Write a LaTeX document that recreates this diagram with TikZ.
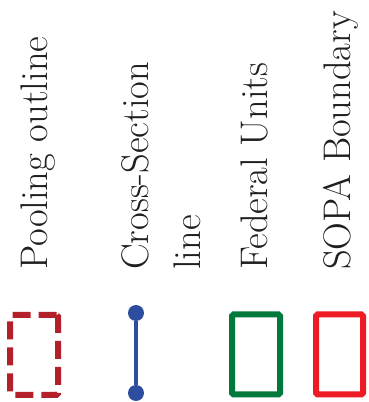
\documentclass[tikz,border=0pt]{standalone}
\usetikzlibrary{arrows}
\usetikzlibrary{shapes}
\definecolor{poolRed}{HTML}{B3202A}
\definecolor{xsecBlue}{HTML}{2D4E9F}
\definecolor{fedGreen}{HTML}{00793C}
\definecolor{sopaRed}{HTML}{ED1C24}

\begin{document}
\begin{tikzpicture}[x = 1pt, y = 1pt]
	\tikzstyle{labelStyle} = [rotate = 90, anchor = base west, inner sep = 0pt, align = left, font = \fontsize{38.5}{52}\selectfont, text = black!88]
	\tikzstyle{boxStyle} = [shape = rectangle, minimum width = 48pt, minimum height = 80pt, line width = 6pt, rounded corners = 1.5pt, draw]
	\tikzstyle{endStyle} = [shape = circle, minimum size = 16pt, inner sep = 0pt, fill = xsecBlue]
	\useasboundingbox (0, 0) rectangle (368, 402);
	% legend texts
	\node[labelStyle] (t0) at (47, 132) {Pooling outline};
	\node[labelStyle] (t1) at (200, 132) {Cross-Section\\line};
	\node[labelStyle] (t2) at (267, 132) {Federal Units};
	\node[labelStyle] (t3) at (350, 132) {SOPA Boundary};
	% legend symbols
	\node[boxStyle, draw = poolRed, dash pattern = on 18pt off 8pt] (s0) at (34, 47) {};
	\node[endStyle] (s1a) at (136, 89) {};
	\node[endStyle] (s1b) at (136, 9) {};
	\draw[xsecBlue, line width = 4pt] (s1a) -- (s1b);
	\node[boxStyle, draw = fedGreen] (s2) at (256, 47.5) {};
	\node[boxStyle, draw = sopaRed, minimum width = 47pt] (s3) at (339.5, 47.5) {};
\end{tikzpicture}
\end{document}
